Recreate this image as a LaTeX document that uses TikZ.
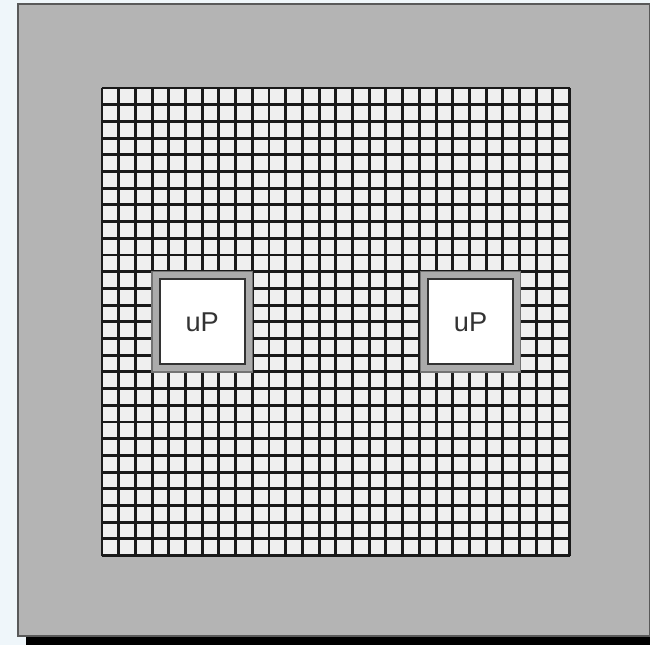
\documentclass[tikz,border=0pt]{standalone}
\usepackage{fontspec}
\setmainfont{Liberation Sans}
\usepackage{tikz}
\usetikzlibrary{positioning, calc}
\usepackage{xcolor}
\definecolor{boardgray}{HTML}{B4B4B4}
\definecolor{pagetint}{HTML}{EFF6FA}
\definecolor{cellfill}{HTML}{EFEFEF}
\tikzset{
  board/.style={
    rectangle, draw=black!65, line width=1.2pt, fill=boardgray,
    minimum width=12.64cm, minimum height=12.64cm, inner sep=0pt
  },
  socket/.style={
    rectangle, draw=black!55, line width=0.7pt, fill=boardgray!95!black,
    minimum size=2.004cm, inner sep=0pt
  },
  chip/.style={
    rectangle, draw=black!80, line width=1.3pt, fill=white,
    minimum size=1.7cm, inner sep=0pt,
    font=\fontsize{15.5}{18}\selectfont, text=black!80
  },
  gridline/.style={draw=black!90, line width=1.7pt}
}

\begin{document}
\begin{tikzpicture}
  \useasboundingbox (0,0) rectangle (13,12.9);
  \fill[pagetint] (0,0) rectangle (13,12.9);
  % shadow under the board
  \fill[black] (0.52,0) rectangle (13,0.3);
  \node[board] (board) at (6.68,6.5) {};

  % the array of cells
  \coordinate (gridsw) at (2.04,1.788);
  \fill[cellfill] (gridsw) rectangle ++(9.352,9.352);
  \foreach \i in {0,...,28} {
    \draw[gridline] ($(gridsw)+(\i*0.334,0)$) -- ++(0,9.352);
    \draw[gridline] ($(gridsw)+(0,\i*0.334)$) -- ++(9.352,0);
  }

  \node[socket] (sockL) at (4.044,6.464) {};
  \node[socket, right=3.34cm of sockL] (sockR) {};
  \node[chip] (upL) at (sockL) {uP};
  \node[chip] (upR) at (sockR) {uP};
\end{tikzpicture}
\end{document}
